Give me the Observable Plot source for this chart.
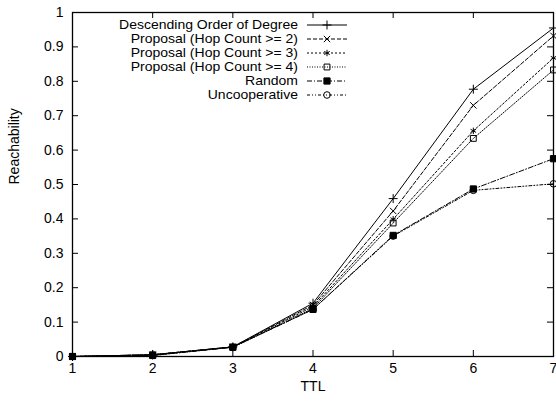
<!DOCTYPE html>
<html><head><meta charset="utf-8">
<script src="https://cdn.jsdelivr.net/npm/d3@7"></script>
<script src="https://cdn.jsdelivr.net/npm/@observablehq/plot@0.6"></script>
<style>body{margin:0;background:#fff}</style>
</head><body><div id="chart"></div>
<script>
const ttl = [1, 2, 3, 4, 5, 6, 7];
const yTicks = [0, 0.1, 0.2, 0.3, 0.4, 0.5, 0.6, 0.7, 0.8, 0.9, 1];
const seriesNames = [
  "Descending Order of Degree",
  "Proposal (Hop Count >= 2)",
  "Proposal (Hop Count >= 3)",
  "Proposal (Hop Count >= 4)",
  "Random",
  "Uncooperative"
];
const descending = [0, 0.005, 0.028, 0.155, 0.459, 0.777, 0.955];
const hop2       = [0, 0.005, 0.028, 0.150, 0.423, 0.730, 0.932];
const hop3       = [0, 0.005, 0.028, 0.145, 0.399, 0.656, 0.868];
const hop4       = [0, 0.005, 0.027, 0.140, 0.388, 0.634, 0.833];
const random     = [0, 0.003, 0.027, 0.137, 0.352, 0.487, 0.575];
const uncoop     = [0, 0.003, 0.027, 0.137, 0.350, 0.483, 0.502];
const values = [descending, hop2, hop3, hop4, random, uncoop];

const styles = [
  {dash: null, symbol: "plus", fill: "none", r: 3},
  {dash: "4,2", symbol: "times", fill: "none", r: 3},
  {dash: "2,2", symbol: "asterisk", fill: "none", r: 3},
  {dash: "1,1.5", symbol: "square", fill: "none", r: 3.3},
  {dash: "5,2,1,2", symbol: "square", fill: "#000", r: 3.5},
  {dash: "3,2,1,2,1,2", symbol: "circle", fill: "none", r: 3.3}
];

const W = 556, H = 401, mL = 72, mR = 3, mT = 12, mB = 45;
const pw = W - mL - mR, ph = H - mT - mB;
const font = "Liberation Sans, Arial, Helvetica, sans-serif";
const fs = 14;

const series = seriesNames.map((name, i) => ttl.map((t, j) => ({name, ttl: t, value: values[i][j]})));

const marks = [
  Plot.ruleX(ttl, {x: d => d, insetTop: ph - 6, stroke: "#000"}),
  Plot.ruleX(ttl, {x: d => d, insetBottom: ph - 6, stroke: "#000"}),
  Plot.ruleY(yTicks, {y: d => d, insetRight: pw - 6, stroke: "#000"}),
  Plot.ruleY(yTicks, {y: d => d, insetLeft: pw - 6, stroke: "#000"}),
  Plot.axisX({ticks: ttl, tickSize: 0, tickPadding: 7, tickFormat: d => String(d), label: null, fontSize: fs}),
  Plot.axisY({ticks: yTicks, tickSize: 0, tickPadding: 9, tickFormat: d => String(d), label: null, fontSize: fs}),
  Plot.text(["TTL"], {frameAnchor: "bottom", dy: 34, fontSize: fs}),
  Plot.text(["Reachability"], {frameAnchor: "left", dx: -58, rotate: -90, fontSize: fs})
];
series.forEach((s, i) => {
  const st = styles[i];
  marks.push(Plot.line(s, {x: "ttl", y: "value", stroke: "#000", strokeWidth: 1, strokeDasharray: st.dash}));
});
series.forEach((s, i) => {
  const st = styles[i];
  marks.push(Plot.dot(s, {x: "ttl", y: "value", symbol: st.symbol, r: st.r, stroke: "#000", strokeWidth: 1, fill: st.fill}));
});
marks.push(Plot.frame({stroke: "#000", strokeWidth: 1.3}));

const plot = Plot.plot({
  width: W, height: H,
  marginLeft: mL, marginRight: mR, marginTop: mT, marginBottom: mB,
  style: {fontFamily: font, fontSize: fs + "px", background: "#fff", color: "#000"},
  x: {domain: [1, 7]},
  y: {domain: [0, 1]},
  marks
});
document.getElementById("chart").appendChild(plot);

// Legend (top right, inside the frame)
const svg = d3.select(plot);
const symMap = {plus: d3.symbolPlus, times: d3.symbolTimes, asterisk: d3.symbolAsterisk, square: d3.symbolSquare, circle: d3.symbolCircle};
const lg = svg.append("g").attr("font-family", font).attr("font-size", 12.5);
seriesNames.forEach((name, i) => {
  const y = 25 + i * 14;
  const st = styles[i];
  lg.append("text").attr("transform", `translate(298,${y}) scale(1.12,1)`)
    .attr("dy", "0.35em").attr("text-anchor", "end").attr("fill", "#000").text(name);
  lg.append("line").attr("x1", 307).attr("x2", 347).attr("y1", y).attr("y2", y)
    .attr("stroke", "#000").attr("stroke-width", 1).attr("stroke-dasharray", st.dash);
  lg.append("path").attr("transform", `translate(327,${y})`)
    .attr("d", d3.symbol(symMap[st.symbol], Math.PI * st.r * st.r)())
    .attr("stroke", "#000").attr("fill", st.fill).attr("stroke-width", 1);
});
</script></body></html>
